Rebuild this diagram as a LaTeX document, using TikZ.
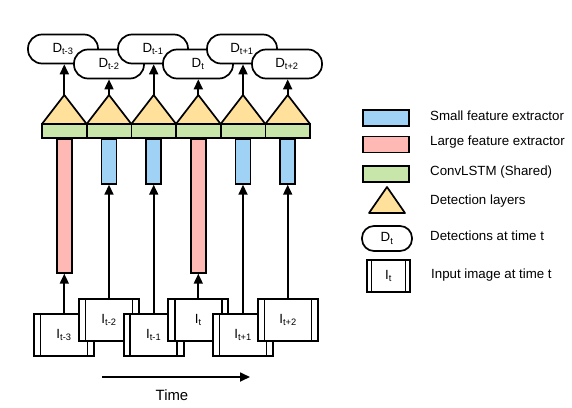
\documentclass[tikz,border=0pt]{standalone}
\usepackage{fontspec}
\setmainfont{Liberation Sans}
\usetikzlibrary{arrows.meta}

\definecolor{smallblue}{RGB}{160,210,245}
\definecolor{largepink}{RGB}{255,185,180}
\definecolor{lstmgreen}{RGB}{200,230,170}
\definecolor{detyellow}{RGB}{255,225,155}

\begin{document}
\begin{tikzpicture}[
    x=1pt, y=-1pt,
    line width=1.7pt,
    every node/.style={font=\fontsize{13.3}{16}\selectfont},
    det/.style={rectangle, draw, rounded corners=14pt, minimum width=70pt, minimum height=29pt, fill=white, inner sep=0pt},
    img/.style={rectangle, draw, minimum width=60pt, minimum height=42pt, fill=white, inner sep=0pt,
        path picture={\draw[line width=1.7pt]
            ([xshift=#1]path picture bounding box.north west) -- ([xshift=#1]path picture bounding box.south west)
            ([xshift=-#1]path picture bounding box.north east) -- ([xshift=-#1]path picture bounding box.south east);}},
    img/.default=6.5pt,
    smallfe/.style={rectangle, draw, fill=smallblue, minimum width=15pt, minimum height=45pt, inner sep=0pt, anchor=north},
    largefe/.style={rectangle, draw, fill=largepink, minimum width=15pt, minimum height=134pt, inner sep=0pt, anchor=north},
    lstm/.style={rectangle, draw, fill=lstmgreen, minimum width=44.7pt, minimum height=14pt, inner sep=0pt},
    tri/.style={draw, fill=detyellow, line join=round},
    arrow/.style={-{Triangle[length=10pt,width=9pt]}},
    legtext/.style={anchor=west}
]
\useasboundingbox (0,0) rectangle (572,407);

% Detection layers (triangles sit on the ConvLSTM bar)
\coordinate (apex_tm3) at (64.3,95);
\coordinate (apex_tm2) at (109,95);
\coordinate (apex_tm1) at (153.7,95);
\coordinate (apex_t) at (198.3,95);
\coordinate (apex_tp1) at (243,95);
\coordinate (apex_tp2) at (287.7,95);
\draw[tri] (apex_tm3) -- ++(22.35,29) -- ++(-44.7,0) -- cycle;
\draw[tri] (apex_tm2) -- ++(22.35,29) -- ++(-44.7,0) -- cycle;
\draw[tri] (apex_tm1) -- ++(22.35,29) -- ++(-44.7,0) -- cycle;
\draw[tri] (apex_t) -- ++(22.35,29) -- ++(-44.7,0) -- cycle;
\draw[tri] (apex_tp1) -- ++(22.35,29) -- ++(-44.7,0) -- cycle;
\draw[tri] (apex_tp2) -- ++(22.35,29) -- ++(-44.7,0) -- cycle;

% ConvLSTM (shared)
\node[lstm] (lstm_tm3) at (64.3,131) {};
\node[lstm] (lstm_tm2) at (109,131) {};
\node[lstm] (lstm_tm1) at (153.7,131) {};
\node[lstm] (lstm_t) at (198.3,131) {};
\node[lstm] (lstm_tp1) at (243,131) {};
\node[lstm] (lstm_tp2) at (287.7,131) {};

% Feature extractors
\node[largefe] (fe_tm3) at (64.3,138) {};
\node[smallfe] (fe_tm2) at (109,138) {};
\node[smallfe] (fe_tm1) at (153.7,138) {};
\node[largefe] (fe_t) at (198.3,138) {};
\node[smallfe] (fe_tp1) at (243,138) {};
\node[smallfe] (fe_tp2) at (287.7,138) {};

% Detections
\node[det] (d_tm3) at (63,49) {D\textsubscript{t-3}};
\node[det] (d_tm2) at (109,64) {D\textsubscript{t-2}};
\node[det] (d_tm1) at (153,49) {D\textsubscript{t-1}};
\node[det] (d_t) at (198,64) {D\textsubscript{t}};
\node[det] (d_tp1) at (242,49) {D\textsubscript{t+1}};
\node[det] (d_tp2) at (287,64) {D\textsubscript{t+2}};

\draw[arrow] (apex_tm3) -- (d_tm3.south -| apex_tm3);
\draw[arrow] (apex_tm2) -- (d_tm2.south -| apex_tm2);
\draw[arrow] (apex_tm1) -- (d_tm1.south -| apex_tm1);
\draw[arrow] (apex_t) -- (d_t.south -| apex_t);
\draw[arrow] (apex_tp1) -- (d_tp1.south -| apex_tp1);
\draw[arrow] (apex_tp2) -- (d_tp2.south -| apex_tp2);

% Input images
\node[img] (img_tm3) at (64,335) {I\textsubscript{t-3}};
\node[img] (img_tm2) at (109,320) {I\textsubscript{t-2}};
\node[img] (img_tm1) at (153.7,335) {I\textsubscript{t-1}};
\node[img] (img_t) at (198.3,320) {I\textsubscript{t}};
\node[img] (img_tp1) at (243,335) {I\textsubscript{t+1}};
\node[img] (img_tp2) at (288,320) {I\textsubscript{t+2}};

\draw[arrow] (img_tm3.north -| fe_tm3) -- (fe_tm3.south);
\draw[arrow] (img_tm2.north -| fe_tm2) -- (fe_tm2.south);
\draw[arrow] (img_tm1.north -| fe_tm1) -- (fe_tm1.south);
\draw[arrow] (img_t.north -| fe_t) -- (fe_t.south);
\draw[arrow] (img_tp1.north -| fe_tp1) -- (fe_tp1.south);
\draw[arrow] (img_tp2.north -| fe_tp2) -- (fe_tp2.south);

% Time axis
\coordinate (time_start) at (102,377);
\coordinate (time_end) at (250,377);
\draw[arrow] (time_start) -- (time_end);
\node[font=\fontsize{14.9}{17}\selectfont] (time) at (172,395) {Time};

% Legend
\node[rectangle, draw, fill=smallblue, minimum width=46pt, minimum height=16pt, inner sep=0pt] (leg_small) at (386,118) {};
\node[rectangle, draw, fill=largepink, minimum width=46pt, minimum height=16pt, inner sep=0pt] (leg_large) at (386,144.5) {};
\node[rectangle, draw, fill=lstmgreen, minimum width=46pt, minimum height=16pt, inner sep=0pt] (leg_lstm) at (386,174) {};
\coordinate (leg_apex) at (387,187);
\draw[tri] (leg_apex) -- ++(18,26) -- ++(-36,0) -- cycle;
\node[det, minimum width=50pt, minimum height=25pt, rounded corners=12pt] (leg_det) at (387,238.5) {D\textsubscript{t}};
\node[img=4.5pt, minimum width=43pt, minimum height=32pt] (leg_img) at (388.5,276) {I\textsubscript{t}};

\node[legtext] (txt_small) at (426,116) {Small feature extractor};
\node[legtext] (txt_large) at (426,142) {Large feature extractor};
\node[legtext] (txt_lstm) at (426,172) {ConvLSTM (Shared)};
\node[legtext] (txt_det) at (426,201) {Detection layers};
\node[legtext] (txt_dt) at (426,236) {Detections at time t};
\node[legtext] (txt_img) at (427,275) {Input image at time t};

\end{tikzpicture}
\end{document}
